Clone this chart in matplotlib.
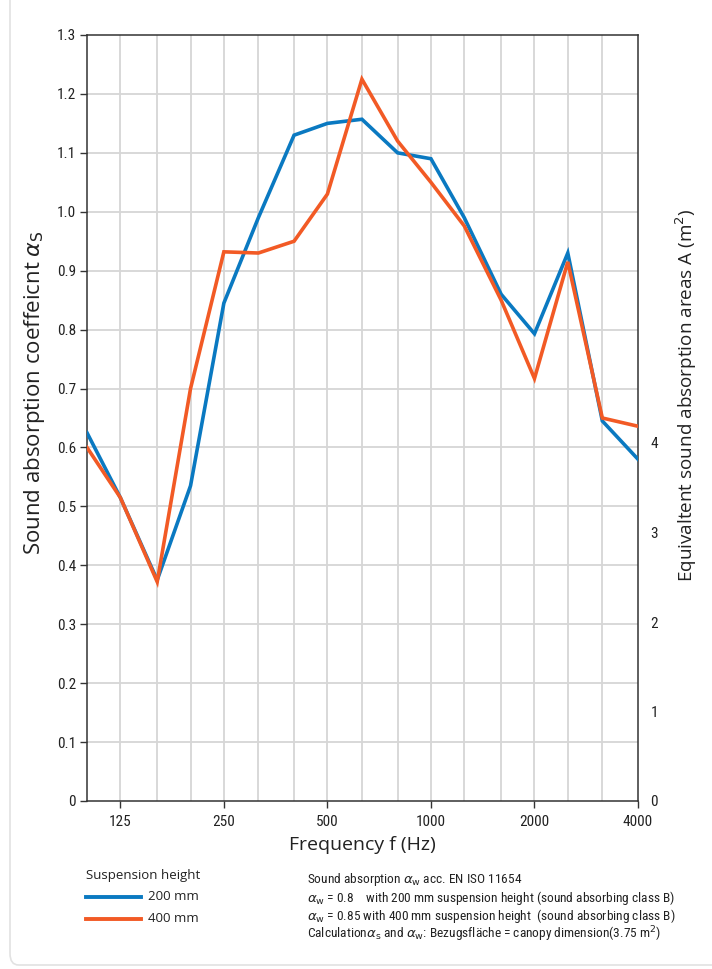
import matplotlib
matplotlib.use("Agg")
import matplotlib.pyplot as plt
from matplotlib import font_manager
import numpy as np
from matplotlib.patches import FancyBboxPatch
from matplotlib.lines import Line2D

freqs = [100, 125, 160, 200, 250, 315, 400, 500, 630, 800, 1000, 1250, 1600, 2000, 2500, 3150, 4000]
alpha_200 = [0.625, 0.515, 0.375, 0.535, 0.845, 0.99, 1.13, 1.15, 1.157, 1.10, 1.09, 0.99, 0.86, 0.793, 0.93, 0.645, 0.58]
alpha_400 = [0.60, 0.515, 0.372, 0.70, 0.932, 0.93, 0.95, 1.03, 1.225, 1.12, 1.05, 0.976, 0.85, 0.717, 0.915, 0.65, 0.636]
tick_labels = ["125", "250", "500", "1000", "2000", "4000"]
tick_freqs = [125, 250, 500, 1000, 2000, 4000]
left_ticks = [0, 0.1, 0.2, 0.3, 0.4, 0.5, 0.6, 0.7, 0.8, 0.9, 1.0, 1.1, 1.2, 1.3]
left_ticklabels = ["0", "0.1", "0.2", "0.3", "0.4", "0.5", "0.6", "0.7", "0.8", "0.9", "1.0", "1.1", "1.2", "1.3"]
right_ticks = [0, 1, 2, 3, 4]

BLUE = "#0a79c1"
ORANGE = "#f25a25"
GRID = "#d6d6d6"
TXT = "#222222"

names = sorted({f.name for f in font_manager.fontManager.ttflist})
narrow_name = None
for cand in ["Liberation Sans Narrow", "DejaVu Sans Condensed", "Roboto Condensed", "Open Sans Condensed"]:
    if cand in names:
        narrow_name = cand
        break
if narrow_name is None:
    for n in names:
        if "Narrow" in n or "Condensed" in n:
            narrow_name = n
            break
narrow = [narrow_name, "DejaVu Sans"] if narrow_name else ["DejaVu Sans"]
small_fs = 9.6 if narrow_name else 8.5
reg = ["Open Sans", "DejaVu Sans"]
plt.rcParams["mathtext.fontset"] = "dejavusans"

fig = plt.figure(figsize=(7.12, 9.69), dpi=100)
fig.patch.set_facecolor("white")

card = FancyBboxPatch((10/712, 4/969), 720/712, 990/969, boxstyle="round,pad=0,rounding_size=0.012",
                      transform=fig.transFigure, facecolor="none", edgecolor="#e2e2e2", lw=1.2, zorder=0)
fig.patches.append(card)

ax = fig.add_axes([87/712, (969-801)/969, 551/712, 766/969])
x = np.log2(np.array(freqs, dtype=float))
ax.set_xlim(x[0], x[-1])
ax.set_ylim(0, 1.3)
for xv in x[1:-1]:
    ax.axvline(xv, color=GRID, lw=1.3, zorder=1)
for yv in left_ticks[1:-1]:
    ax.axhline(yv, color=GRID, lw=1.3, zorder=1)

ax.plot(x, alpha_200, color=BLUE, lw=2.6, zorder=3, solid_joinstyle="miter")
ax.plot(x, alpha_400, color=ORANGE, lw=2.6, zorder=4, solid_joinstyle="miter")

ax.set_xticks(np.log2(tick_freqs))
ax.set_xticklabels(tick_labels, fontsize=11, family=narrow, color=TXT)
ax.set_yticks(left_ticks)
ax.set_yticklabels(left_ticklabels, fontsize=11, family=narrow, color=TXT)
ax.tick_params(axis="both", direction="out", length=5, width=1, color="#333333", pad=3)
ax.tick_params(axis="x", pad=5)
for s in ax.spines.values():
    s.set_color("#333333")
    s.set_linewidth(1.1)

ax.set_xlabel("Frequency f (Hz)", fontsize=14, family=reg, color=TXT, labelpad=5)
ax.set_ylabel(r"Sound absorption coeffeicnt $\alpha_\mathrm{S}$", fontsize=16, family=reg, color=TXT)
ax.yaxis.set_label_coords(-0.072, (801-393)/766)

ax2 = ax.twinx()
ax2.set_ylim(0, 766/89.5)
ax2.set_yticks(right_ticks)
ax2.set_yticklabels([str(t) for t in right_ticks], fontsize=11, family=narrow, color=TXT)
ax2.tick_params(axis="y", direction="out", length=0, pad=9)
for s in ax2.spines.values():
    s.set_visible(False)
ax2.set_ylabel(r"Equivaltent sound absorption areas A (m$^2$)", fontsize=13.6, family=reg, color=TXT)
ax2.yaxis.set_label_coords(1.064, (801-395)/766)

fig.text(86/712, 1-876/969, "Suspension height", fontsize=9.5, family=reg, color=TXT, va="center")
for yy, col, lab in [(897, BLUE, "200 mm"), (919, ORANGE, "400 mm")]:
    fig.add_artist(Line2D([86/712, 141/712], [1-yy/969, 1-yy/969], color=col, lw=2.8, transform=fig.transFigure))
    fig.text(148/712, 1-yy/969, lab, fontsize=9.5, family=reg, color=TXT, va="center")

notes = [
    (880, r"Sound absorption $\alpha_\mathrm{w}$ acc. EN ISO 11654"),
    (898, r"$\alpha_\mathrm{w}$ = 0.8    with 200 mm suspension height (sound absorbing class B)"),
    (916, r"$\alpha_\mathrm{w}$ = 0.85 with 400 mm suspension height  (sound absorbing class B)"),
    (934, r"Calculation$\alpha_\mathrm{s}$ and $\alpha_\mathrm{w}$: Bezugsfläche = canopy dimension(3.75 m$^2$)"),
]
for yy, t in notes:
    fig.text(307/712, 1-yy/969, t, fontsize=small_fs, family=narrow, color=TXT, va="center")

fig.savefig("out.png", dpi=100)
